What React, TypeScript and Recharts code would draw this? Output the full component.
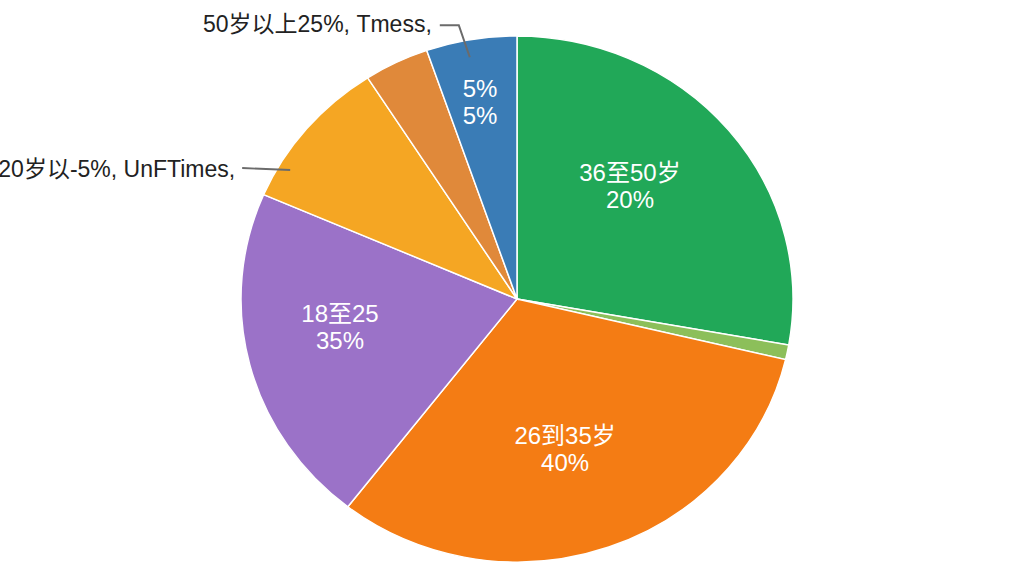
import React from 'react';
import { PieChart, Pie, Cell } from 'recharts';

// ---- data ----
const categories = ['36至50岁', '其他', '26到35岁', '18至25', '20岁以下', '50岁以上(偏)', '50岁以上'];
const shares = [27.8, 0.9, 31.8, 21.0, 9.4, 3.8, 5.3];
const innerLabels: (string[] | null)[] = [
  ['36至50岁', '20%'],
  null,
  ['26到35岁', '40%'],
  ['18至25', '35%'],
  null,
  null,
  ['5%', '5%'],
];
const outerLabels: (string | null)[] = [null, null, null, null, '20岁以-5%, UnFTimes,', null, '50岁以上25%, Tmess,'];

// ---- styles ----
const colors = ['#21a858', '#8cbf5a', '#f47c14', '#9b72c8', '#f5a623', '#e0893a', '#3a7cb6'];
const K = 263 / 276; // vertical squash of the pie
const SCREEN_CY = 299;
const CX = 517;
const CY = 340; // local (pre-squash) centre
const H = 632; // local chart height
const R = 276;
// inner label placement: [radius fraction, angle offset (deg)]
const innerPlace: [number, number][] = [
  [0.593, 6.4],
  [0, 0],
  [0.598, -2.5],
  [0.65, -5.0],
  [0, 0],
  [0, 0],
  [0.761, 0.6],
];
// outer label leader anchor: [radius fraction, angle offset]
const outerPlace: [number, number][] = [
  [0, 0], [0, 0], [0, 0], [0, 0],
  [0.957, 9.5],
  [0, 0],
  [0.935, 1.0],
];

const data = categories.map((name, i) => ({ name, value: shares[i] }));
const RAD = Math.PI / 180;

function Txt({ x, y, children, anchor, fill, size }: any) {
  return (
    <text
      transform={`translate(${x} ${y}) scale(1 ${1 / K})`}
      x={0}
      y={0}
      textAnchor={anchor}
      dominantBaseline="central"
      fill={fill}
      fontSize={size}
      fontFamily="'Liberation Sans', Arial, 'Noto Sans CJK SC', sans-serif"
    >
      {children}
    </text>
  );
}

function renderLabel(props: any) {
  const { cx, cy, midAngle, outerRadius, index } = props;
  const parts: React.ReactNode[] = [];
  const inner = innerLabels[index];
  if (inner) {
    const [f, off] = innerPlace[index];
    const a = (midAngle + off) * RAD;
    const x = cx + outerRadius * f * Math.cos(a);
    const y = cy - outerRadius * f * Math.sin(a);
    const dy = 13.5 / K;
    parts.push(
      <Txt key="l1" x={x} y={y - dy} anchor="middle" fill="#ffffff" size={24}>{inner[0]}</Txt>,
      <Txt key="l2" x={x} y={y + dy} anchor="middle" fill="#ffffff" size={24}>{inner[1]}</Txt>
    );
  }
  const outer = outerLabels[index];
  if (outer) {
    const [f, off] = outerPlace[index];
    const a = (midAngle + off) * RAD;
    const ex = cx + outerRadius * f * Math.cos(a);
    const ey = cy - outerRadius * f * Math.sin(a);
    let pts: [number, number][];
    let tx: number, ty: number;
    if (index === 6) {
      const elx = ex - 11;
      const ely = ey - 32 / K;
      pts = [[ex, ey], [elx, ely], [elx - 19, ely]];
      tx = elx - 27;
      ty = ely - 1 / K;
    } else {
      const sx = ex - 48;
      const sy = ey - 2 / K;
      pts = [[ex, ey], [sx, sy]];
      tx = sx - 7;
      ty = sy + 1 / K;
    }
    parts.push(
      <polyline
        key="ln"
        points={pts.map((p) => p.join(',')).join(' ')}
        fill="none"
        stroke="#6b6b6b"
        strokeWidth={2}
        vectorEffect="non-scaling-stroke"
      />,
      <Txt key="ot" x={tx} y={ty} anchor="end" fill="#222222" size={23}>{outer}</Txt>
    );
  }
  return <g key={`lab-${index}`}>{parts}</g>;
}

export default function App() {
  return (
    <div
      style={{
        position: 'fixed',
        left: 0,
        top: 0,
        width: 1024,
        height: 576,
        overflow: 'hidden',
        background: '#ffffff',
      }}
    >
      <div
        style={{
          position: 'absolute',
          left: 0,
          top: SCREEN_CY - CY,
          width: 1024,
          height: H,
          transform: `scaleY(${K})`,
          transformOrigin: `0px ${CY}px`,
        }}
      >
        <PieChart width={1024} height={H} margin={{ top: 0, right: 0, bottom: 0, left: 0 }}>
          <Pie
            data={data}
            dataKey="value"
            nameKey="name"
            cx={CX}
            cy={CY}
            outerRadius={R}
            startAngle={90}
            endAngle={-270}
            stroke="#ffffff"
            strokeWidth={1.5}
            label={renderLabel}
            labelLine={false}
            isAnimationActive={false}
          >
            {data.map((d, i) => (
              <Cell key={d.name} fill={colors[i]} />
            ))}
          </Pie>
        </PieChart>
      </div>
    </div>
  );
}
